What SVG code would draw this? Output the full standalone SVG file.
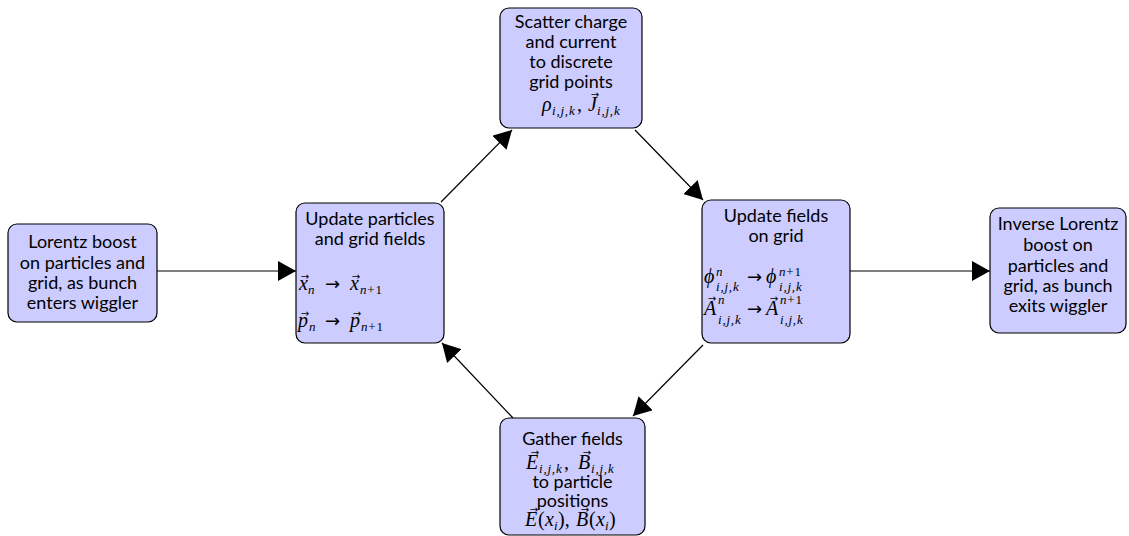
<svg xmlns="http://www.w3.org/2000/svg" width="1129" height="536" viewBox="0 0 1129 536">
<style>
.box{fill:#ccccff;stroke:#000;stroke-width:1.2}
.t{font-family:"Lato","Liberation Sans",sans-serif;font-size:18px;fill:#000;text-anchor:middle}
.m{font-family:"Liberation Serif",serif;font-style:italic;font-size:20px;fill:#000}
.s{font-size:13px;letter-spacing:0.8px}
.u{font-style:normal}
.ar{font-family:"DejaVu Sans",sans-serif;font-style:normal;font-size:18px}
.v{font-family:"DejaVu Sans",sans-serif;font-size:10px;fill:#000;text-anchor:middle}
.c{stroke:#000;stroke-width:1.2;fill:none;marker-end:url(#ah)}
</style>
<defs>
<marker id="ah" viewBox="0 0 18 20" refX="18" refY="10" markerWidth="18" markerHeight="20" markerUnits="userSpaceOnUse" orient="auto">
<path d="M0,0 L18,10 L0,20 Z" fill="#000"/>
</marker>
</defs>
<rect width="1129" height="536" fill="#fff"/>
<g id="connectors">
<line class="c" x1="157" y1="271" x2="296" y2="271"/>
<line class="c" x1="850" y1="271" x2="990" y2="271"/>
<line class="c" x1="441" y1="202" x2="512" y2="130"/>
<line class="c" x1="635" y1="130" x2="703" y2="200"/>
<line class="c" x1="703" y1="345" x2="633" y2="416"/>
<line class="c" x1="513" y1="418" x2="442" y2="343"/>
</g>
<g id="n1">
<rect class="box" x="8" y="224" width="149" height="98" rx="9"/>
<text class="t" x="82.5" y="248">Lorentz boost</text>
<text class="t" x="82.5" y="269">on particles and</text>
<text class="t" x="82.5" y="289">grid, as bunch</text>
<text class="t" x="82.5" y="309">enters wiggler</text>
</g>
<g id="n2">
<rect class="box" x="296" y="203" width="148" height="140" rx="9"/>
<text class="t" x="370" y="225">Update particles</text>
<text class="t" x="370" y="245">and grid fields</text>
<text class="m" x="299" y="290">x<tspan class="s" x="308" y="294">n</tspan><tspan class="ar" x="325" y="290">→</tspan><tspan x="350" y="290">x</tspan><tspan class="s" x="360" y="294">n</tspan><tspan class="s u">+1</tspan></text>
<text class="v" x="305" y="280">→</text>
<text class="v" x="356" y="280">→</text>
<text class="m" x="298" y="327">p<tspan class="s" x="309" y="331">n</tspan><tspan class="ar" x="325" y="327">→</tspan><tspan x="350" y="327">p</tspan><tspan class="s" x="361" y="331">n</tspan><tspan class="s u">+1</tspan></text>
<text class="v" x="305" y="317">→</text>
<text class="v" x="357" y="317">→</text>
</g>
<g id="n3">
<rect class="box" x="500" y="8" width="142" height="120" rx="9"/>
<text class="t" x="571" y="28">Scatter charge</text>
<text class="t" x="571" y="48">and current</text>
<text class="t" x="571" y="68">to discrete</text>
<text class="t" x="571" y="88">grid points</text>
<text class="m" x="542" y="111">ρ<tspan class="s" x="552" y="115">i,j,k</tspan><tspan class="u" x="577" y="111">,</tspan><tspan x="588" y="111">J</tspan><tspan class="s" x="597" y="115">i,j,k</tspan></text>
<text class="v" x="595" y="98">→</text>
</g>
<g id="n4">
<rect class="box" x="702" y="200" width="148" height="143" rx="9"/>
<text class="t" x="776" y="222">Update fields</text>
<text class="t" x="776" y="242">on grid</text>
<text class="m" x="704" y="283">ϕ<tspan class="s" x="716" y="276">n</tspan><tspan class="s" x="716" y="291">i,j,k</tspan><tspan class="ar" x="747" y="283">→</tspan><tspan x="766" y="283">ϕ</tspan><tspan class="s" x="779" y="276">n</tspan><tspan class="s u">+1</tspan><tspan class="s" x="779" y="291">i,j,k</tspan></text>
<text class="m" x="704" y="315">A<tspan class="s" x="718" y="304">n</tspan><tspan class="s" x="718" y="324">i,j,k</tspan><tspan class="ar" x="747" y="315">→</tspan><tspan x="766" y="315">A</tspan><tspan class="s" x="780" y="304">n</tspan><tspan class="s u">+1</tspan><tspan class="s" x="780" y="324">i,j,k</tspan></text>
<text class="v" x="712" y="302">→</text>
<text class="v" x="774" y="302">→</text>
</g>
<g id="n5">
<rect class="box" x="990" y="208" width="136" height="125" rx="9"/>
<text class="t" x="1058" y="230">Inverse Lorentz</text>
<text class="t" x="1058" y="251">boost on</text>
<text class="t" x="1058" y="272">particles and</text>
<text class="t" x="1058" y="292">grid, as bunch</text>
<text class="t" x="1058" y="312">exits wiggler</text>
</g>
<g id="n6">
<rect class="box" x="500" y="418" width="145" height="117" rx="9"/>
<text class="t" x="572.5" y="445">Gather fields</text>
<text class="m" x="526" y="469">E<tspan class="s" x="539" y="473">i,j,k</tspan><tspan class="u" x="564" y="469">,</tspan><tspan x="578" y="469">B</tspan><tspan class="s" x="591" y="473">i,j,k</tspan></text>
<text class="v" x="535" y="456">→</text>
<text class="v" x="587" y="456">→</text>
<text class="t" x="572.5" y="488">to particle</text>
<text class="t" x="572.5" y="507">positions</text>
<text class="m" x="525" y="526">E<tspan class="u" x="538">(</tspan><tspan x="545">x</tspan><tspan class="s" x="554" y="530">i</tspan><tspan class="u" x="558" y="526">),</tspan><tspan x="576">B</tspan><tspan class="u" x="589">(</tspan><tspan x="596">x</tspan><tspan class="s" x="605" y="530">i</tspan><tspan class="u" x="609" y="526">)</tspan></text>
<text class="v" x="534" y="513">→</text>
<text class="v" x="585" y="513">→</text>
</g>
</svg>
